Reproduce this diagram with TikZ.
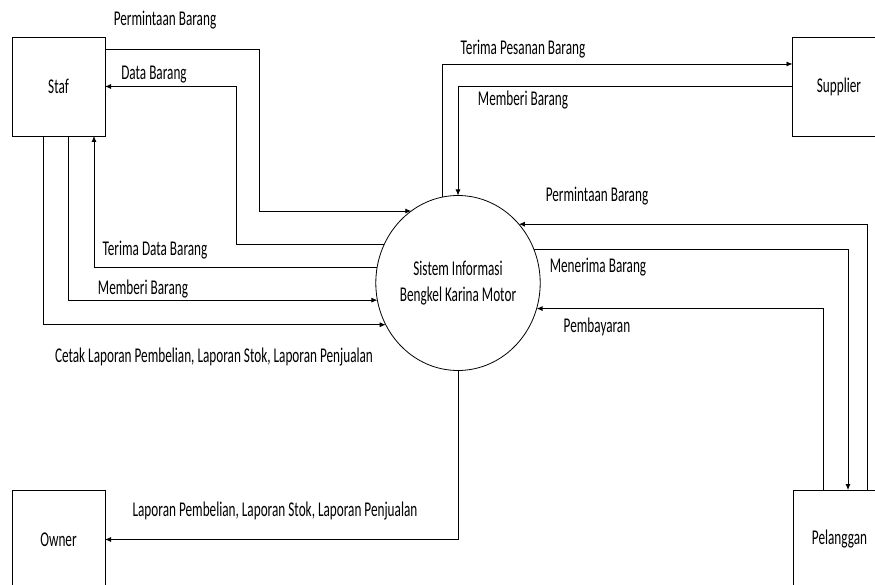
\documentclass[tikz,border=0pt]{standalone}
\usepackage{fontspec}
\setmainfont{Carlito}[FakeStretch=0.63]
\usepackage{tikz}
\usetikzlibrary{arrows.meta}
\usetikzlibrary{shapes}

\begin{document}
\begin{tikzpicture}[x=1pt, y=-1pt, font=\fontsize{21}{26}\selectfont,
  entity/.style={draw, line width=0.8pt, minimum width=93pt, minimum height=99pt, inner sep=0pt, outer sep=0pt},
  flow/.style={-{Latex[length=6pt, width=5pt]}, line width=0.8pt}]
\path [use as bounding box, clip] (0,0) rectangle (875,585);
\node [entity] (staf) at (58.5,86.5) {Staf};
\node [entity] (supplier) at (839,86.5) {Supplier};
\node [entity] (owner) at (58.5,539.5) {Owner};
\node [entity] (pelanggan) at (839.5,539.5) {Pelanggan};
\node [draw, ellipse, line width=0.8pt, minimum width=160pt, minimum height=175pt, inner sep=0pt, outer sep=0pt, align=center] (sistem) at (458,283) {Sistem Informasi\\Bengkel Karina Motor};
\draw [flow] (staf.east |- 0,49) -- (259,49) |- (sistem.123.4);
\draw [flow] (sistem.152.2) -| (236,86.5) -- (staf.east);
\draw [flow] (sistem.169.2) -| (staf.south -| 94,0);
\draw [flow] (staf.south -| 68,0) |- (sistem.192.2);
\draw [flow] (staf.south -| 43,0) |- (sistem.210.9);
\draw [flow] (sistem.100.6) |- (supplier.west |- 0,64);
\draw [flow] (supplier.west) -| (sistem.north);
\draw [flow] (pelanggan.north -| 867,0) |- (sistem.44.9);
\draw [flow] (sistem.24.8) -| (pelanggan.north -| 848,0);
\draw [flow] (pelanggan.north -| 823,0) |- (sistem.342.7);
\draw [flow] (sistem.south) |- (owner.east);
\node (lpermintaanstaf) at (165,20) {Permintaan Barang};
\node (ldata) at (154,75) {Data Barang};
\node (lterimadata) at (155,250) {Terima Data Barang};
\node (lmemberistaf) at (143,289) {Memberi Barang};
\node (lcetak) at (214,357) {Cetak Laporan Pembelian, Laporan Stok, Laporan Penjualan};
\node (lterimapesanan) at (523,49) {Terima Pesanan Barang};
\node (lmemberisup) at (523,100) {Memberi Barang};
\node (lpermintaanpel) at (597,196) {Permintaan Barang};
\node (lmenerima) at (598,267) {Menerima Barang};
\node (lpembayaran) at (597,327) {Pembayaran};
\node (llaporan) at (275,511) {Laporan Pembelian, Laporan Stok, Laporan Penjualan};
\end{tikzpicture}
\end{document}
